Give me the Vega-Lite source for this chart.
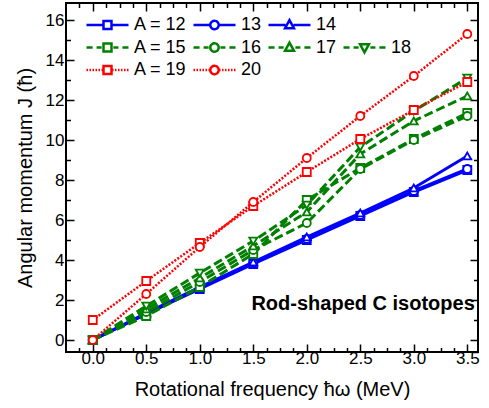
{
  "$schema": "https://vega.github.io/schema/vega-lite/v6.json",
  "width": 412,
  "height": 349,
  "autosize": {"type": "none"},
  "padding": {"left": 66, "top": 3, "right": 11, "bottom": 56},
  "background": "white",
  "config": {
    "view": {"stroke": "black", "strokeWidth": 2},
    "font": "Liberation Sans",
    "axis": {"domain": false, "grid": false, "labelFont": "Liberation Sans", "labelFontSize": 17, "labelColor": "black", "titleFont": "Liberation Sans", "titleFontSize": 20, "titleFontWeight": "normal", "titleColor": "black", "tickColor": "black", "tickWidth": 1.5}
  },
  "data": {"values": [
    {"A": "12", "g": "b", "w": 0, "J": 0}, {"A": "12", "g": "b", "w": 0.5, "J": 1.3}, {"A": "12", "g": "b", "w": 1.0, "J": 2.55}, {"A": "12", "g": "b", "w": 1.5, "J": 3.8}, {"A": "12", "g": "b", "w": 2.0, "J": 5.0}, {"A": "12", "g": "b", "w": 2.5, "J": 6.2}, {"A": "12", "g": "b", "w": 3.0, "J": 7.4}, {"A": "12", "g": "b", "w": 3.5, "J": 8.5},
    {"A": "13", "g": "b", "w": 0, "J": 0}, {"A": "13", "g": "b", "w": 0.5, "J": 1.3}, {"A": "13", "g": "b", "w": 1.0, "J": 2.6}, {"A": "13", "g": "b", "w": 1.5, "J": 3.85}, {"A": "13", "g": "b", "w": 2.0, "J": 5.05}, {"A": "13", "g": "b", "w": 2.5, "J": 6.25}, {"A": "13", "g": "b", "w": 3.0, "J": 7.45}, {"A": "13", "g": "b", "w": 3.5, "J": 8.55},
    {"A": "14", "g": "b", "w": 0, "J": 0}, {"A": "14", "g": "b", "w": 0.5, "J": 1.35}, {"A": "14", "g": "b", "w": 1.0, "J": 2.65}, {"A": "14", "g": "b", "w": 1.5, "J": 3.9}, {"A": "14", "g": "b", "w": 2.0, "J": 5.15}, {"A": "14", "g": "b", "w": 2.5, "J": 6.35}, {"A": "14", "g": "b", "w": 3.0, "J": 7.6}, {"A": "14", "g": "b", "w": 3.5, "J": 9.2},
    {"A": "15", "g": "g", "w": 0, "J": 0}, {"A": "15", "g": "g", "w": 0.5, "J": 1.2}, {"A": "15", "g": "g", "w": 1.0, "J": 2.65}, {"A": "15", "g": "g", "w": 1.5, "J": 4.3}, {"A": "15", "g": "g", "w": 2.0, "J": 7.0}, {"A": "15", "g": "g", "w": 2.5, "J": 8.6}, {"A": "15", "g": "g", "w": 3.0, "J": 10.05}, {"A": "15", "g": "g", "w": 3.5, "J": 11.35},
    {"A": "16", "g": "g", "w": 0, "J": 0}, {"A": "16", "g": "g", "w": 0.5, "J": 1.4}, {"A": "16", "g": "g", "w": 1.0, "J": 2.9}, {"A": "16", "g": "g", "w": 1.5, "J": 4.5}, {"A": "16", "g": "g", "w": 2.0, "J": 5.85}, {"A": "16", "g": "g", "w": 2.5, "J": 8.55}, {"A": "16", "g": "g", "w": 3.0, "J": 10.0}, {"A": "16", "g": "g", "w": 3.5, "J": 11.2},
    {"A": "17", "g": "g", "w": 0, "J": 0}, {"A": "17", "g": "g", "w": 0.5, "J": 1.55}, {"A": "17", "g": "g", "w": 1.0, "J": 3.1}, {"A": "17", "g": "g", "w": 1.5, "J": 4.7}, {"A": "17", "g": "g", "w": 2.0, "J": 6.4}, {"A": "17", "g": "g", "w": 2.5, "J": 9.3}, {"A": "17", "g": "g", "w": 3.0, "J": 10.95}, {"A": "17", "g": "g", "w": 3.5, "J": 12.2},
    {"A": "18", "g": "g", "w": 0, "J": 0}, {"A": "18", "g": "g", "w": 0.5, "J": 1.7}, {"A": "18", "g": "g", "w": 1.0, "J": 3.35}, {"A": "18", "g": "g", "w": 1.5, "J": 4.95}, {"A": "18", "g": "g", "w": 2.0, "J": 6.75}, {"A": "18", "g": "g", "w": 2.5, "J": 9.65}, {"A": "18", "g": "g", "w": 3.0, "J": 11.45}, {"A": "18", "g": "g", "w": 3.5, "J": 13.1},
    {"A": "19", "g": "r", "w": 0, "J": 1.0}, {"A": "19", "g": "r", "w": 0.5, "J": 2.95}, {"A": "19", "g": "r", "w": 1.0, "J": 4.85}, {"A": "19", "g": "r", "w": 1.5, "J": 6.7}, {"A": "19", "g": "r", "w": 2.0, "J": 8.4}, {"A": "19", "g": "r", "w": 2.5, "J": 10.05}, {"A": "19", "g": "r", "w": 3.0, "J": 11.5}, {"A": "19", "g": "r", "w": 3.5, "J": 12.9},
    {"A": "20", "g": "r", "w": 0, "J": 0}, {"A": "20", "g": "r", "w": 0.5, "J": 2.3}, {"A": "20", "g": "r", "w": 1.0, "J": 4.65}, {"A": "20", "g": "r", "w": 1.5, "J": 6.9}, {"A": "20", "g": "r", "w": 2.0, "J": 9.1}, {"A": "20", "g": "r", "w": 2.5, "J": 11.2}, {"A": "20", "g": "r", "w": 3.0, "J": 13.2}, {"A": "20", "g": "r", "w": 3.5, "J": 15.3}
  ]},
  "layer": [
    {
      "transform": [{"filter": "datum.g == 'b'"}],
      "mark": {"type": "line", "strokeWidth": 3},
      "encoding": {
        "x": {"field": "w", "type": "quantitative", "scale": {"domain": [-0.25, 3.6], "nice": false, "zero": false},
          "axis": {"orient": "bottom", "title": "Rotational frequency ħω (MeV)", "values": [-0.125, 0, 0.125, 0.25, 0.375, 0.5, 0.625, 0.75, 0.875, 1, 1.125, 1.25, 1.375, 1.5, 1.625, 1.75, 1.875, 2, 2.125, 2.25, 2.375, 2.5, 2.625, 2.75, 2.875, 3, 3.125, 3.25, 3.375, 3.5],
            "labelExpr": "abs(datum.value*2 - round(datum.value*2)) < 0.01 ? format(datum.value, '.1f') : ''",
            "tickSize": {"condition": {"test": "abs(datum.value*2 - round(datum.value*2)) > 0.01", "value": -4.5}, "value": -8},
            "labelPadding": 6, "titlePadding": 10, "labelFlush": false, "labelOverlap": false}},
        "y": {"field": "J", "type": "quantitative", "scale": {"domain": [-0.6, 16.85], "nice": false, "zero": false},
          "axis": {"orient": "left", "title": "Angular momentum J (ħ)", "values": [0, 1, 2, 3, 4, 5, 6, 7, 8, 9, 10, 11, 12, 13, 14, 15, 16],
            "labelExpr": "datum.value % 2 == 0 ? datum.label : ''",
            "tickSize": {"condition": {"test": "datum.value % 2 != 0", "value": -4.5}, "value": -8},
            "labelPadding": 10, "titlePadding": 10, "labelFlush": false, "labelOverlap": false}},
        "color": {"field": "A", "type": "nominal",
          "scale": {"domain": ["12", "13", "14", "_", "15", "16", "17", "18", "19", "20"], "range": ["#0000ff", "#0000ff", "#0000ff", "transparent", "#008000", "#008000", "#008000", "#008000", "#ff0000", "#ff0000"]},
          "legend": {"orient": "none", "legendX": 19, "legendY": 12, "direction": "horizontal", "columns": 4, "title": null,
            "symbolSize": 1764, "clipHeight": 20, "labelFontSize": 18, "labelFont": "Liberation Sans", "labelColor": "black",
            "labelOffset": 4, "columnPadding": 5, "rowPadding": 2.5, "padding": 0, "symbolStrokeWidth": 2.5,
            "labelExpr": "(datum.value == '12' || datum.value == '15' || datum.value == '19') ? 'A = ' + datum.value : (datum.value == '_' ? '' : datum.value)",
            "encode": {"symbols": {"update": {
              "shape": {"signal": "(indexof(['12','13','14'], datum.value) >= 0 ? 'M-1,0H-0.19M0.19,0H1' : indexof(['15','16','17','18'], datum.value) >= 0 ? 'M-1,0H-0.71M-0.52,0H-0.28M0.28,0H0.52M0.71,0H1' : indexof(['19','20'], datum.value) >= 0 ? 'M-1,0h0.07M-0.857,0h0.07M-0.714,0h0.07M-0.571,0h0.07M-0.429,0h0.07M-0.286,0h0.07M0.216,0h0.07M0.359,0h0.07M0.502,0h0.07M0.645,0h0.07M0.788,0h0.07M0.93,0h0.07' : 'M0,0') + (indexof(['12','15','19'], datum.value) >= 0 ? 'M-0.19,-0.19H0.19V0.19H-0.19Z' : indexof(['13','16','20'], datum.value) >= 0 ? 'M0.2,0A0.2,0.2,0,1,1,-0.2,0A0.2,0.2,0,1,1,0.2,0Z' : indexof(['14','17'], datum.value) >= 0 ? 'M0,-0.23L0.21,0.15L-0.21,0.15Z' : datum.value == '18' ? 'M0,0.23L0.21,-0.15L-0.21,-0.15Z' : '')"},
              "fill": {"value": "white"},
              "fillOpacity": {"value": 1},
              "opacity": {"value": 1},
              "strokeWidth": {"value": 2.5},
              "strokeDash": {"value": [1, 0]}
            }}}
          }}
      }
    },
    {
      "transform": [{"filter": "datum.g == 'b'"}],
      "mark": {"type": "point", "filled": false, "fill": "white", "fillOpacity": 1, "opacity": 1, "size": 64, "strokeWidth": 1.8},
      "encoding": {
        "x": {"field": "w", "type": "quantitative", "axis": null},
        "y": {"field": "J", "type": "quantitative", "axis": null},
        "color": {"field": "A", "type": "nominal", "legend": null},
        "shape": {"condition": [{"test": "indexof(['12','15','19'], datum.A) >= 0", "value": "square"}, {"test": "indexof(['13','16','20'], datum.A) >= 0", "value": "circle"}, {"test": "datum.A == '18'", "value": "triangle-down"}], "value": "triangle-up"}
      }
    },
    {
      "transform": [{"filter": "datum.g == 'g'"}],
      "mark": {"type": "line", "strokeWidth": 3, "strokeDash": [9, 4]},
      "encoding": {
        "x": {"field": "w", "type": "quantitative", "axis": null},
        "y": {"field": "J", "type": "quantitative", "axis": null},
        "color": {"field": "A", "type": "nominal", "legend": null}
      }
    },
    {
      "transform": [{"filter": "datum.g == 'g'"}],
      "mark": {"type": "point", "filled": false, "fill": "white", "fillOpacity": 1, "opacity": 1, "size": 64, "strokeWidth": 1.8},
      "encoding": {
        "x": {"field": "w", "type": "quantitative", "axis": null},
        "y": {"field": "J", "type": "quantitative", "axis": null},
        "color": {"field": "A", "type": "nominal", "legend": null},
        "shape": {"condition": [{"test": "indexof(['12','15','19'], datum.A) >= 0", "value": "square"}, {"test": "indexof(['13','16','20'], datum.A) >= 0", "value": "circle"}, {"test": "datum.A == '18'", "value": "triangle-down"}], "value": "triangle-up"}
      }
    },
    {
      "transform": [{"filter": "datum.g == 'r'"}],
      "mark": {"type": "line", "strokeWidth": 2.5, "strokeDash": [2, 1.6]},
      "encoding": {
        "x": {"field": "w", "type": "quantitative", "axis": null},
        "y": {"field": "J", "type": "quantitative", "axis": null},
        "color": {"field": "A", "type": "nominal", "legend": null}
      }
    },
    {
      "transform": [{"filter": "datum.g == 'r'"}],
      "mark": {"type": "point", "filled": false, "fill": "white", "fillOpacity": 1, "opacity": 1, "size": 64, "strokeWidth": 1.8},
      "encoding": {
        "x": {"field": "w", "type": "quantitative", "axis": null},
        "y": {"field": "J", "type": "quantitative", "axis": null},
        "color": {"field": "A", "type": "nominal", "legend": null},
        "shape": {"condition": [{"test": "indexof(['12','15','19'], datum.A) >= 0", "value": "square"}, {"test": "indexof(['13','16','20'], datum.A) >= 0", "value": "circle"}, {"test": "datum.A == '18'", "value": "triangle-down"}], "value": "triangle-up"}
      }
    },
    {
      "data": {"values": [{"x": 3.57, "y": 1.8, "t": "Rod-shaped C isotopes"}]},
      "mark": {"type": "text", "align": "right", "baseline": "middle", "fontSize": 20, "fontWeight": "bold", "font": "Liberation Sans", "color": "black"},
      "encoding": {
        "x": {"field": "x", "type": "quantitative",
          "axis": {"orient": "top", "title": null, "labels": false, "values": [-0.125, 0, 0.125, 0.25, 0.375, 0.5, 0.625, 0.75, 0.875, 1, 1.125, 1.25, 1.375, 1.5, 1.625, 1.75, 1.875, 2, 2.125, 2.25, 2.375, 2.5, 2.625, 2.75, 2.875, 3, 3.125, 3.25, 3.375, 3.5],
            "tickSize": {"condition": {"test": "abs(datum.value*2 - round(datum.value*2)) > 0.01", "value": -4.5}, "value": -8}}},
        "y": {"field": "y", "type": "quantitative",
          "axis": {"orient": "right", "title": null, "labels": false, "values": [0, 1, 2, 3, 4, 5, 6, 7, 8, 9, 10, 11, 12, 13, 14, 15, 16],
            "tickSize": {"condition": {"test": "datum.value % 2 != 0", "value": -4.5}, "value": -8}}},
        "text": {"field": "t"}
      }
    }
  ]
}
